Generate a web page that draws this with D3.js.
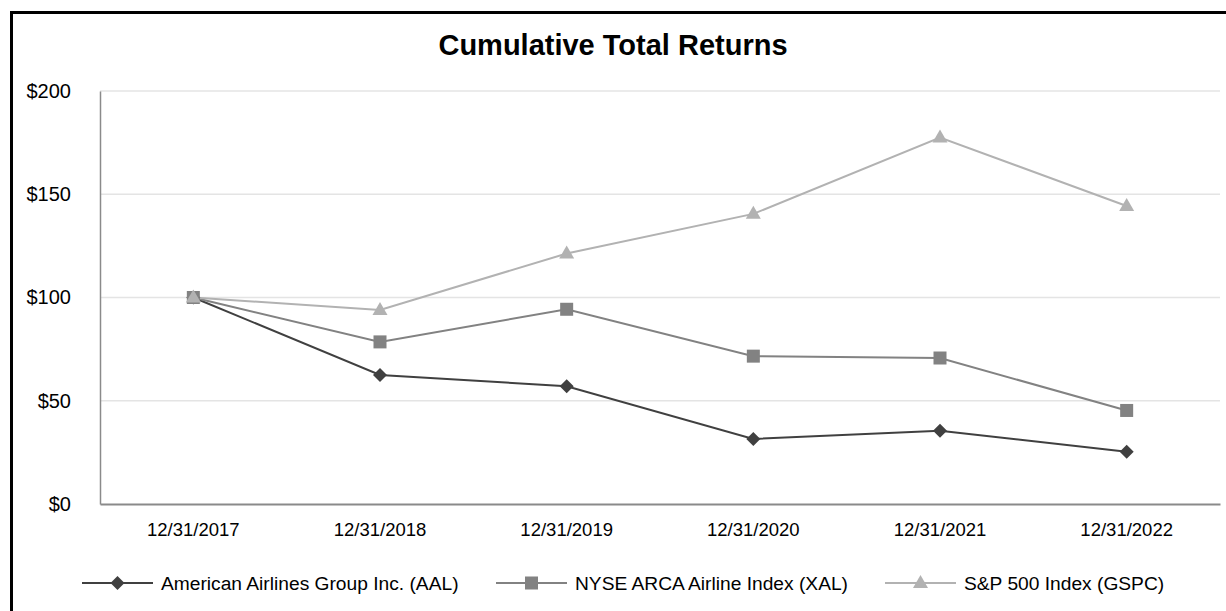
<!DOCTYPE html>
<html>
<head>
<meta charset="utf-8">
<script src="https://cdn.jsdelivr.net/npm/d3@7"></script>
<style>
  html, body { margin: 0; padding: 0; background: #fff; }
  svg { display: block; font-family: "Liberation Sans", Arial, sans-serif; }
</style>
</head>
<body>
<svg id="chart" width="1226" height="611"></svg>
<script>
const categories = ["12/31/2017", "12/31/2018", "12/31/2019", "12/31/2020", "12/31/2021", "12/31/2022"];
const aal  = [100, 62.5, 57, 31.5, 35.5, 25.3];
const xal  = [100, 78.5, 94.3, 71.6, 70.7, 45.3];
const gspc = [100, 94, 121.3, 140.5, 177.5, 144.3];
const yTicks = [0, 50, 100, 150, 200];
const seriesNames = ["American Airlines Group Inc. (AAL)", "NYSE ARCA Airline Index (XAL)", "S&P 500 Index (GSPC)"];

const series = [
  { name: seriesNames[0], values: aal,  color: "#404040", marker: "diamond" },
  { name: seriesNames[1], values: xal,  color: "#828282", marker: "square" },
  { name: seriesNames[2], values: gspc, color: "#b2b2b2", marker: "triangle" }
];

const svg = d3.select("#chart");
const W = 1226, H = 611;
const margin = { left: 100, right: 6, top: 91, bottom: 107 };
const plotW = W - margin.left - margin.right;
const plotH = H - margin.top - margin.bottom;

// outer border (only top/left visible in frame)
svg.append("rect").attr("x", 11.5).attr("y", 12.5).attr("width", W + 20).attr("height", H + 20)
  .attr("fill", "none").attr("stroke", "#000").attr("stroke-width", 3);

svg.append("text").attr("x", 613).attr("y", 55).attr("text-anchor", "middle")
  .attr("font-size", 29).attr("font-weight", "bold").attr("fill", "#000")
  .text("Cumulative Total Returns");

const g = svg.append("g").attr("transform", `translate(${margin.left},${margin.top})`);

const x = d3.scaleBand().domain(categories).range([0, plotW]);
const y = d3.scaleLinear().domain([0, 200]).range([plotH, 0]);

// gridlines
g.append("g").selectAll("line").data(yTicks.filter(d => d > 0)).join("line")
  .attr("x1", 0).attr("x2", plotW)
  .attr("y1", d => y(d)).attr("y2", d => y(d))
  .attr("stroke", "#e4e4e4").attr("stroke-width", 1.5);

// y axis
const yAxis = g.append("g").call(d3.axisLeft(y).tickValues(yTicks).tickSize(0).tickPadding(29).tickFormat(d => "$" + d));
yAxis.select(".domain").attr("stroke", "#8a8a8a").attr("stroke-width", 1.5);
yAxis.selectAll("text").attr("font-size", 20).attr("fill", "#000").attr("font-family", "Liberation Sans, Arial, sans-serif");

// x axis
const xAxis = g.append("g").attr("transform", `translate(0,${plotH})`)
  .call(d3.axisBottom(x).tickSize(0).tickPadding(19));
xAxis.select(".domain").attr("stroke", "#8a8a8a").attr("stroke-width", 2);
xAxis.selectAll("text").attr("font-size", 18.5).attr("fill", "#000").attr("font-family", "Liberation Sans, Arial, sans-serif");

const cx = d => x(d) + x.bandwidth() / 2;

function drawMarker(sel, type, color) {
  if (type === "diamond") {
    sel.append("path").attr("d", "M0,-7L7,0L0,7L-7,0Z").attr("fill", color);
  } else if (type === "square") {
    sel.append("rect").attr("x", -6.5).attr("y", -6.5).attr("width", 13).attr("height", 13).attr("fill", color);
  } else {
    sel.append("path").attr("d", "M0,-8L7.5,5L-7.5,5Z").attr("fill", color);
  }
}

const line = d3.line().x((d, i) => cx(categories[i])).y(d => y(d));

series.forEach(s => {
  g.append("path").datum(s.values).attr("d", line)
    .attr("fill", "none").attr("stroke", s.color).attr("stroke-width", 2);
});
series.forEach(s => {
  s.values.forEach((v, i) => {
    const m = g.append("g").attr("transform", `translate(${cx(categories[i])},${y(v)})`);
    drawMarker(m, s.marker, s.color);
  });
});

// legend
const legendY = 583;
const legendX = [82, 496, 885];
series.forEach((s, i) => {
  const lg = svg.append("g").attr("transform", `translate(${legendX[i]},${legendY})`);
  lg.append("line").attr("x1", 0).attr("x2", 71).attr("y1", 0).attr("y2", 0)
    .attr("stroke", s.color).attr("stroke-width", 2);
  const m = lg.append("g").attr("transform", "translate(35.5,0)");
  drawMarker(m, s.marker, s.color);
  lg.append("text").attr("x", 79).attr("y", 0).attr("dy", "0.35em")
    .attr("font-size", 19.2).attr("fill", "#000").text(s.name);
});
</script>
</body>
</html>
